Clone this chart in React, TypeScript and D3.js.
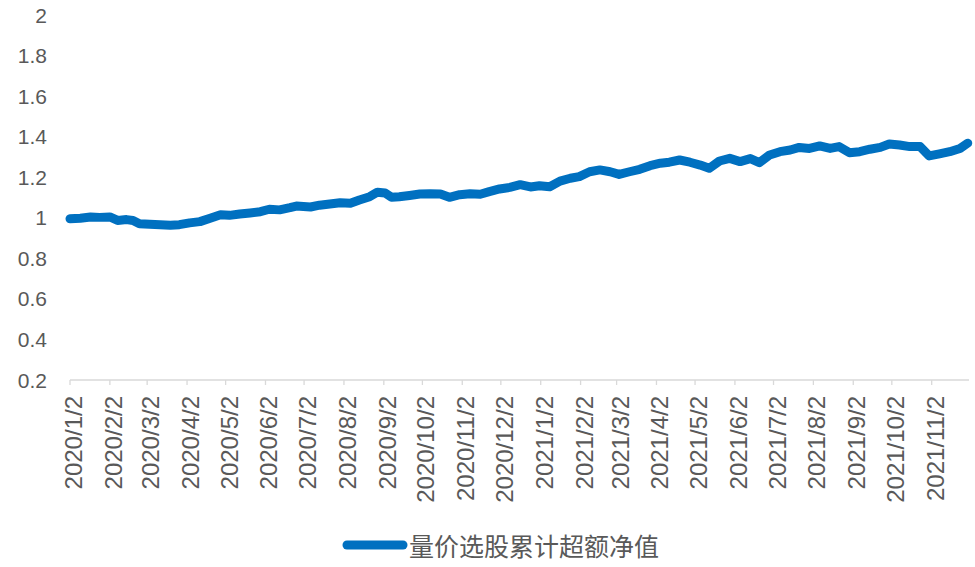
import React from 'react';
import * as d3 from 'd3';

const seriesName = '量价选股累计超额净值';

const dates = [
  '2020-01-02', '2020-01-10', '2020-01-18', '2020-01-25', '2020-02-02', '2020-02-08', '2020-02-15', '2020-02-20',
  '2020-02-25', '2020-03-04', '2020-03-12', '2020-03-20', '2020-03-27', '2020-04-04', '2020-04-12', '2020-04-20',
  '2020-04-28', '2020-05-05', '2020-05-13', '2020-05-21', '2020-05-29', '2020-06-05', '2020-06-13', '2020-06-21',
  '2020-06-26', '2020-07-07', '2020-07-14', '2020-07-22', '2020-07-30', '2020-08-07', '2020-08-14', '2020-08-22',
  '2020-08-28', '2020-09-03', '2020-09-08', '2020-09-14', '2020-09-22', '2020-09-30', '2020-10-08', '2020-10-16',
  '2020-10-23', '2020-10-31', '2020-11-08', '2020-11-16', '2020-11-23', '2020-12-01', '2020-12-09', '2020-12-17',
  '2020-12-25', '2021-01-01', '2021-01-09', '2021-01-17', '2021-01-25', '2021-02-01', '2021-02-09', '2021-02-17',
  '2021-02-25', '2021-03-04', '2021-03-12', '2021-03-20', '2021-03-28', '2021-04-05', '2021-04-12', '2021-04-20',
  '2021-04-28', '2021-05-06', '2021-05-13', '2021-05-21', '2021-05-29', '2021-06-06', '2021-06-14', '2021-06-21',
  '2021-06-29', '2021-07-07', '2021-07-15', '2021-07-22', '2021-07-30', '2021-08-07', '2021-08-15', '2021-08-22',
  '2021-08-30', '2021-09-07', '2021-09-15', '2021-09-23', '2021-09-30', '2021-10-08', '2021-10-16', '2021-10-24',
  '2021-10-31', '2021-11-08', '2021-11-16', '2021-11-24', '2021-11-30',
];

const values = [
  0.995, 0.998, 1.004, 1.002, 1.004, 0.987, 0.991, 0.987,
  0.971, 0.968, 0.966, 0.963, 0.966, 0.975, 0.981, 0.998,
  1.015, 1.012, 1.019, 1.024, 1.030, 1.042, 1.039, 1.050,
  1.058, 1.053, 1.062, 1.068, 1.074, 1.072, 1.088, 1.104,
  1.126, 1.122, 1.101, 1.104, 1.110, 1.117, 1.118, 1.117,
  1.101, 1.114, 1.118, 1.116, 1.129, 1.142, 1.150, 1.163,
  1.152, 1.158, 1.153, 1.181, 1.195, 1.203, 1.227, 1.236,
  1.227, 1.214, 1.227, 1.239, 1.257, 1.269, 1.274, 1.285,
  1.274, 1.260, 1.244, 1.280, 1.293, 1.277, 1.292, 1.272,
  1.310, 1.326, 1.334, 1.347, 1.342, 1.354, 1.342, 1.351,
  1.321, 1.326, 1.338, 1.347, 1.364, 1.359, 1.351, 1.351,
  1.305, 1.315, 1.326, 1.342, 1.368,
];

const yTicks = [0.2, 0.4, 0.6, 0.8, 1, 1.2, 1.4, 1.6, 1.8, 2];

const xTickLabels = [
  '2020/1/2', '2020/2/2', '2020/3/2', '2020/4/2', '2020/5/2', '2020/6/2', '2020/7/2', '2020/8/2',
  '2020/9/2', '2020/10/2', '2020/11/2', '2020/12/2', '2021/1/2', '2021/2/2', '2021/3/2', '2021/4/2',
  '2021/5/2', '2021/6/2', '2021/7/2', '2021/8/2', '2021/9/2', '2021/10/2', '2021/11/2',
];

const xDomain = ['2020-01-02', '2021-12-01'];

const W = 975;
const H = 567;
const LINE_COLOR = '#0070C0';
const TEXT_COLOR = '#595959';
const AXIS_COLOR = '#d9d9d9';
const FONT = '"Liberation Sans", Arial, sans-serif';
const CJK_FONT = '"Noto Sans CJK SC", sans-serif';

export default function App() {
  const parseISO = d3.timeParse('%Y-%m-%d');
  const parseLabel = d3.timeParse('%Y/%m/%d');

  const x = d3
    .scaleTime()
    .domain([parseISO(xDomain[0]) as Date, parseISO(xDomain[1]) as Date])
    .range([70, 969]);
  const y = d3.scaleLinear().domain([0.2, 2]).range([380, 15]);

  const data = dates.map((d, i) => ({ date: parseISO(d) as Date, value: values[i] }));
  const line = d3
    .line<{ date: Date; value: number }>()
    .x((d) => x(d.date))
    .y((d) => y(d.value));

  const axisY = y(0.2);

  return (
    <svg
      width={W}
      height={H}
      style={{ position: 'absolute', left: 0, top: 0, background: '#fff' }}
    >
      <rect x={0} y={0} width={W} height={H} fill="#fff" />
      {/* Y tick labels */}
      {yTicks.map((t) => (
        <text
          key={t}
          x={47}
          y={y(t)}
          textAnchor="end"
          dominantBaseline="central"
          fontFamily={FONT}
          fontSize={21}
          fill={TEXT_COLOR}
        >
          {d3.format('~g')(t)}
        </text>
      ))}
      {/* X axis */}
      <line x1={x.range()[0]} x2={x.range()[1]} y1={axisY} y2={axisY} stroke={AXIS_COLOR} strokeWidth={1.3} />
      {xTickLabels.map((lab) => {
        const tx = x(parseLabel(lab) as Date);
        return (
          <g key={lab}>
            <line x1={tx} x2={tx} y1={axisY} y2={axisY + 5} stroke={AXIS_COLOR} strokeWidth={1.3} />
            <text
              transform={`translate(${tx + 12},${axisY + 16}) rotate(-90)`}
              textAnchor="end"
              fontFamily={FONT}
              fontSize={24}
              fill={TEXT_COLOR}
            >
              {lab}
            </text>
          </g>
        );
      })}
      {/* Series */}
      <path
        d={line(data) || ''}
        fill="none"
        stroke={LINE_COLOR}
        strokeWidth={9}
        strokeLinejoin="round"
        strokeLinecap="round"
      />
      {/* Legend */}
      <line x1={347} x2={403} y1={545} y2={545} stroke={LINE_COLOR} strokeWidth={9} strokeLinecap="round" />
      <text
        x={409}
        y={545}
        dominantBaseline="central"
        fontFamily={CJK_FONT}
        fontSize={25}
        fill={TEXT_COLOR}
      >
        {seriesName}
      </text>
    </svg>
  );
}
